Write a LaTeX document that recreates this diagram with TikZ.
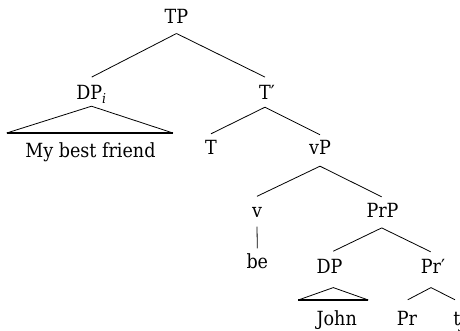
\documentclass[tikz,border=0pt]{standalone}
\usepackage{fontspec}
\setmainfont{DejaVu Serif Condensed}
\begin{document}
\begin{tikzpicture}[x=1pt,y=-1pt,
  lbl/.style={inner sep=0pt, anchor=base, text height=21pt, text depth=10pt,
              font=\fontsize{19.5}{23}\selectfont},
  leaf/.style={lbl, text height=25pt},
  branch/.style={line width=0.8pt},
  roofbase/.style={line width=1.3pt}]
\useasboundingbox (0,0) rectangle (460,331);

% category labels, placed on their baselines
\node[lbl, text height=15pt, text depth=9.3pt] (TP)   at (176.5,24)  {TP};
\node[lbl, text height=22.7pt, text depth=6pt] (DPi)  at (91.5,100)  {DP\textsubscript{\itshape i}};
\node[lbl, text height=22.7pt, text depth=7pt] (Tbar) at (267,100)   {T′};
\node[leaf] (MBF) at (90.5,158) {My best friend};
\node[lbl] (T)    at (211,155)   {T};
\node[lbl, text height=20pt, text depth=11pt] (vP)   at (320,155)   {vP};
\node[lbl, text depth=9pt] (v)    at (257,217.5) {v};
\node[lbl, text height=20pt, text depth=10.7pt] (PrP)  at (382.5,217) {PrP};
\node[lbl, text height=20pt] (be)   at (257.3,268.5) {be};
\node[lbl, text height=21.6pt, text depth=14.4pt] (DP)   at (329.5,273) {DP};
\node[lbl, text depth=14.4pt] (Prbar) at (433,273) {Pr′};
\node[leaf] (John) at (336.7,325) {John};
\node[leaf] (Pr)   at (407,325)   {Pr};
\node[leaf] (tj)   at (459,325)   {t\textsubscript{\itshape j}};

% corners of the two roofs
\coordinate (r1l) at (6.7,133);
\coordinate (r1r) at (173,133);
\coordinate (r2l) at (298.3,300);
\coordinate (r2r) at (368.3,300);

% branches
\draw[branch] (TP.south) -- ([xshift=0.2pt]DPi.north);
\draw[branch] (TP.south) -- ([xshift=-2pt]Tbar.north);
\draw[branch] ([xshift=-2pt]Tbar.south) -- (T.north);
\draw[branch] ([xshift=-2pt]Tbar.south) -- (vP.north);
\draw[branch] (vP.south) -- (v.north);
\draw[branch] (vP.south) -- ([xshift=-0.8pt]PrP.north);
\draw[branch] (v.south) -- (be.north);
\draw[branch] ([xshift=-0.8pt]PrP.south) -- ([xshift=3.8pt]DP.north);
\draw[branch] ([xshift=-0.8pt]PrP.south) -- ([xshift=-2.3pt]Prbar.north);
\draw[branch] ([xshift=-2pt]Prbar.south) -- ([xshift=0.7pt]Pr.north);
\draw[branch] ([xshift=-2pt]Prbar.south) -- ([xshift=-4pt]tj.north);

% roofs over unanalysed phrases
\draw[branch, line join=miter] (r1l) -- (DPi.south) -- (r1r);
\draw[roofbase] (r1l) -- (r1r);
\draw[branch, line join=miter] (r2l) -- ([xshift=3.8pt]DP.south) -- (r2r);
\draw[roofbase] (r2l) -- (r2r);
\end{tikzpicture}
\end{document}
